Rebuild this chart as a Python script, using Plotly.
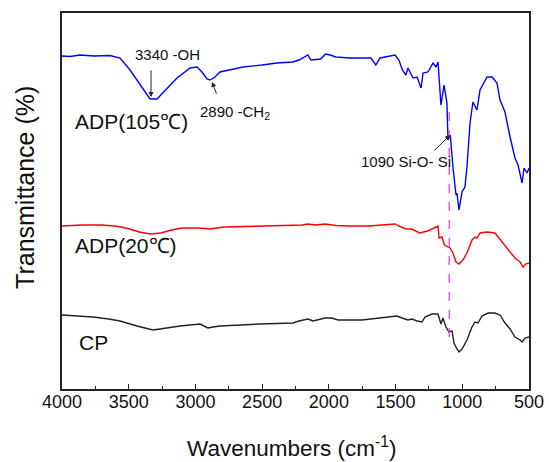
import plotly.graph_objects as go

# Wavenumbers (cm-1) and transmittance (arbitrary offset units)
wn_blue = [4000, 3940, 3865, 3760, 3640, 3565, 3490, 3415, 3340, 3288, 3243, 3138, 3040, 2988, 2951, 2913, 2891,
           2853, 2816, 2735, 2643, 2500, 2389, 2269, 2224, 2157, 2135, 2060, 2026, 1990, 1947, 1842, 1700, 1685,
           1648, 1617, 1504, 1475, 1449, 1423, 1407, 1390, 1369, 1339, 1309, 1294, 1257, 1219, 1197, 1182, 1160,
           1137, 1115, 1107, 1090, 1070, 1047, 1040, 1025, 1002, 980, 965, 942, 920, 890, 867, 815, 777, 740, 717,
           680, 642, 605, 582, 552, 537, 515, 500]
t_blue = [333, 332.5, 334, 333, 333.5, 331, 319, 304, 290, 290, 296, 311, 321, 322, 317, 310, 309,
          312, 317, 319, 322, 324, 326, 327, 329, 334, 329, 330, 335, 334, 332, 331, 331.5, 331,
          324, 331, 334, 329, 319, 314, 321, 317, 311, 312, 301, 316, 317, 326, 322, 327, 284,
          304, 286, 249, 254, 222, 194, 196, 179, 197, 202, 222, 266, 287, 279, 299, 312, 312, 306, 289,
          277, 252, 231, 224, 206, 221, 216, 221]

wn_red = [4000, 3850, 3704, 3600, 3520, 3420, 3337, 3258, 3180, 3101, 2980, 2891, 2786, 2600, 2367, 2200, 2157,
          2100, 2026, 1950, 1842, 1700, 1604, 1504, 1475, 1423, 1380, 1318, 1260, 1219, 1182, 1174, 1152, 1134,
          1115, 1092, 1070, 1047, 1025, 995, 965, 927, 905, 890, 867, 815, 755, 702, 657, 605, 567, 545, 525, 500]
t_red = [163, 164, 164, 163, 161, 157, 155, 156, 159, 161, 161, 160, 162, 162.5, 163, 164, 165,
         164, 165, 163.5, 163, 163, 164, 165, 163, 160, 160, 156, 158, 161, 163, 151, 152, 144,
         143, 141, 136, 127, 125, 129, 136, 149, 152, 151, 156, 157, 156, 147, 139, 131, 127, 122, 125, 126]

wn_black = [4000, 3900, 3767, 3650, 3565, 3438, 3318, 3265, 3116, 2966, 2906, 2868, 2816, 2516, 2268, 2224, 2156,
            2119, 2029, 1977, 1932, 1752, 1602, 1490, 1452, 1407, 1377, 1339, 1302, 1279, 1227, 1182, 1160, 1145,
            1122, 1100, 1077, 1062, 1040, 1025, 1002, 965, 927, 905, 882, 852, 807, 755, 717, 680, 642, 605, 567,
            552, 530, 507, 500]
t_black = [74, 73, 72, 70, 68, 63, 59, 60, 63, 65, 61, 62, 63, 65, 66, 68, 70,
           68, 71, 71, 69, 69, 71, 73, 71, 69, 70, 68, 67, 72, 75, 75, 65, 71,
           62, 57, 58, 46, 40, 37, 40, 49, 62, 67, 66, 73, 76, 76, 74, 66, 60, 52, 49,
           47, 51, 52, 52]

marker_wn = [1098, 1098]
marker_t = [277, 44]

labels = ["ADP(105℃)", "ADP(20℃)", "CP"]
label_pos = [(3914, 268), (3914, 144), (3890, 47)]
x_ticks = [4000, 3500, 3000, 2500, 2000, 1500, 1000, 500]

FONT = "Arial, Liberation Sans, sans-serif"

fig = go.Figure()
fig.add_trace(go.Scatter(x=wn_blue, y=t_blue, mode="lines", line=dict(color="#0000ff", width=1.4), showlegend=False))
fig.add_trace(go.Scatter(x=wn_red, y=t_red, mode="lines", line=dict(color="#ff0000", width=1.4), showlegend=False))
fig.add_trace(go.Scatter(x=wn_black, y=t_black, mode="lines", line=dict(color="#222222", width=1.4), showlegend=False))
fig.add_trace(go.Scatter(x=marker_wn, y=marker_t, mode="lines", line=dict(color="#e040fb", width=1.3, dash="dash"), showlegend=False))

annotations = []
for text, (x, y) in zip(labels, label_pos):
    annotations.append(dict(x=x, y=y, xref="x", yref="y", text=text, showarrow=False, xanchor="left",
                            yanchor="middle", font=dict(size=21, color="#111", family=FONT)))

annotations += [
    dict(x=3213, y=335, xref="x", yref="y", text="3340 -OH", showarrow=False, xanchor="center", yanchor="middle",
         font=dict(size=15, color="#111", family=FONT)),
    dict(x=3333, y=292, ax=3333, ay=320, xref="x", yref="y", axref="x", ayref="y", text="", showarrow=True,
         arrowhead=2, arrowsize=1, arrowwidth=1, arrowcolor="#222"),
    dict(x=2981, y=277, xref="x", yref="y", text="2890 -CH<sub>2</sub>", showarrow=False, xanchor="left",
         yanchor="middle", font=dict(size=15, color="#111", family=FONT)),
    dict(x=2876, y=307, ax=2838, ay=294, xref="x", yref="y", axref="x", ayref="y", text="", showarrow=True,
         arrowhead=2, arrowsize=1, arrowwidth=1, arrowcolor="#222"),
    dict(x=1422, y=228, xref="x", yref="y", text="1090 Si-O- Si", showarrow=False, xanchor="center",
         yanchor="middle", font=dict(size=15, color="#111", family=FONT)),
    dict(x=1092, y=254, ax=1220, ay=237, xref="x", yref="y", axref="x", ayref="y", text="", showarrow=True,
         arrowhead=2, arrowsize=1, arrowwidth=1, arrowcolor="#222"),
    dict(x=-0.079, y=0.535, xref="paper", yref="paper", text="Transmittance (%)", textangle=-90, showarrow=False,
         xanchor="center", yanchor="middle", font=dict(size=25, color="#111", family=FONT)),
    dict(x=0.4925, y=-0.154, xref="paper", yref="paper", text="Wavenumbers (cm<sup>-1</sup>)", showarrow=False,
         xanchor="center", yanchor="middle", font=dict(size=22.5, color="#111", family=FONT)),
]

fig.update_layout(
    width=549, height=462, autosize=False,
    margin=dict(l=62, r=20, t=13, b=73),
    paper_bgcolor="white", plot_bgcolor="white",
    annotations=annotations,
    xaxis=dict(range=[4000, 500], tickvals=x_ticks, ticks="inside", ticklen=5, tickwidth=1.2, tickcolor="#222",
               showline=True, linecolor="#222", linewidth=2, mirror=True, showgrid=False, zeroline=False,
               automargin=False, ticklabelstandoff=-5,
               tickfont=dict(size=18, color="#111", family=FONT),
               minor=dict(dtick=250, ticks="inside", ticklen=3, tickcolor="#222", showgrid=False)),
    yaxis=dict(range=[0, 376], showticklabels=False, ticks="", showline=True, linecolor="#222", linewidth=2,
               mirror=True, showgrid=False, zeroline=False, automargin=False),
)

fig.write_html(
    "out.html",
    config={"responsive": False, "displayModeBar": False},
    post_script="document.body.style.margin='0';document.body.style.overflow='hidden';",
)
